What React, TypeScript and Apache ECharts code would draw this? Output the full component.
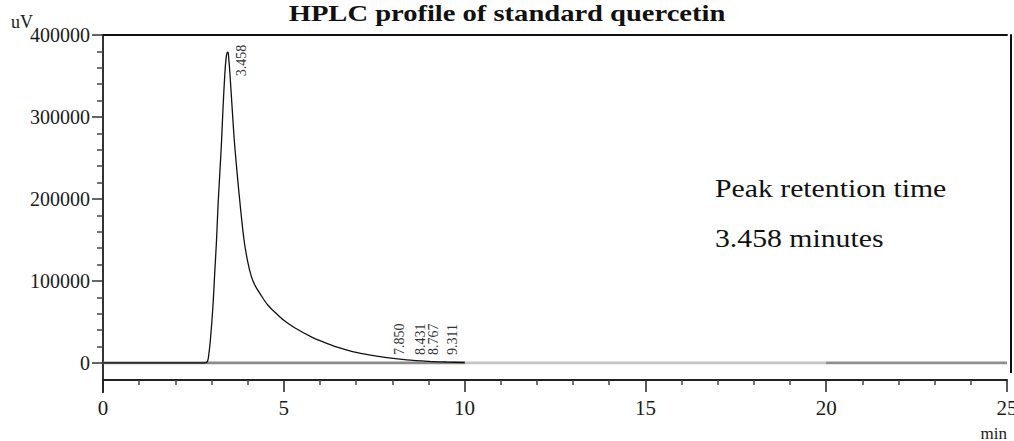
import React, { useEffect, useRef } from "react";
import * as echarts from "echarts";

// ---- data ----
const retentionTimes = [0, 2.8, 2.89, 2.93, 2.97, 3.04, 3.09, 3.14, 3.18, 3.23, 3.28, 3.32, 3.37, 3.4, 3.43, 3.458, 3.48, 3.51, 3.57, 3.63, 3.71, 3.8, 3.9, 4.0, 4.1, 4.2, 4.35, 4.55, 4.8, 5.0, 5.3, 5.8, 6.1, 6.5, 6.9, 7.4, 7.85, 8.4, 9.0, 9.5, 10.0];
const signal = [0, 0, 2000, 12000, 28000, 69000, 110000, 150000, 191000, 231000, 272000, 312000, 353000, 370000, 378000, 379000, 370000, 353000, 312000, 272000, 231000, 190000, 150000, 124000, 106000, 95000, 84000, 71000, 60000, 52000, 43000, 31000, 25500, 19000, 14000, 9500, 6500, 3800, 2100, 1200, 600];
const baselineTimes = [0, 10, 20, 25];
const baselineValues = [0, 0, 0, 0];
const peakTimes = [3.458, 7.85, 8.431, 8.767, 9.311];
const peakLabels = ["3.458", "7.850", "8.431", "8.767", "9.311"];
const yMin = 0;
const yMax = 400000;
const yInterval = 100000;
const xMin = 0;
const xMax = 25;
const xInterval = 5;
const titleText = "HPLC profile of standard quercetin";
const annotationLines = ["Peak retention time", "3.458 minutes"];
const yUnit = "uV";
const xUnit = "min";

const SERIF = "'Liberation Serif', 'Times New Roman', 'DejaVu Serif', serif";

export default function App() {
  const ref = useRef<HTMLDivElement>(null);

  useEffect(() => {
    if (!ref.current) return;
    const chart = echarts.init(ref.current, undefined, { renderer: "svg" });

    const traceData = retentionTimes.map((t, i) => [t, signal[i]]);
    const baseData = baselineTimes.map((t, i) => [t, baselineValues[i]]);

    chart.setOption({
      animation: false,
      backgroundColor: "#ffffff",
      grid: { left: 103, right: 7, top: 35, bottom: 78, containLabel: false, outerBoundsMode: "none" },
      visualMap: {
        show: false,
        type: "piecewise",
        seriesIndex: 0,
        dimension: 0,
        pieces: [
          { lt: 10, color: "#8a8a8a" },
          { gte: 10, lt: 20, color: "#c4c4c4" },
          { gte: 20, color: "#8f8f8f" },
        ],
      },
      xAxis: [
        {
          type: "value",
          min: xMin,
          max: xMax,
          interval: xInterval,
          position: "bottom",
          offset: 17,
          axisLine: { show: true, onZero: false, lineStyle: { color: "#222", width: 2 } },
          axisTick: { show: true, length: 12, lineStyle: { color: "#222", width: 1.5 } },
          minorTick: { show: true, splitNumber: 5, length: 5, lineStyle: { color: "#444", width: 1.5 } },
          axisLabel: { fontFamily: SERIF, fontSize: 21, color: "#1a1a1a", margin: 17 },
          splitLine: { show: false },
        },
        {
          type: "value",
          min: xMin,
          max: xMax,
          position: "top",
          axisLine: { show: true, onZero: false, lineStyle: { color: "#111", width: 2 } },
          axisTick: { show: false },
          axisLabel: { show: false },
          splitLine: { show: false },
        },
      ],
      yAxis: [
        {
          type: "value",
          min: yMin,
          max: yMax,
          interval: yInterval,
          position: "left",
          axisLine: { show: true, onZero: false, lineStyle: { color: "#333", width: 2 } },
          axisTick: { show: true, length: 11, lineStyle: { color: "#333", width: 1.5 } },
          minorTick: { show: true, splitNumber: 5, length: 6, lineStyle: { color: "#444", width: 1.5 } },
          axisLabel: {
            fontFamily: SERIF,
            fontSize: 20,
            color: "#1a1a1a",
            margin: 13,
            formatter: (v: number) => String(v),
          },
          splitLine: { show: false },
        },
        {
          type: "value",
          min: yMin,
          max: yMax,
          position: "right",
          offset: 4,
          axisLine: { show: true, onZero: false, lineStyle: { color: "#111", width: 2 } },
          axisTick: { show: false },
          axisLabel: { show: false },
          splitLine: { show: false },
        },
      ],
      series: [
        {
          name: "baseline",
          type: "line",
          xAxisIndex: 0,
          yAxisIndex: 0,
          data: baseData,
          symbol: "none",
          lineStyle: { width: 3 },
          silent: true,
          z: 1,
        },
        {
          name: "quercetin",
          type: "line",
          xAxisIndex: 0,
          yAxisIndex: 0,
          data: traceData,
          symbol: "none",
          smooth: 0.3,
          lineStyle: { color: "#111", width: 1.3 },
          silent: true,
          z: 3,
        },
      ],
    });

    const toPx = (t: number, v: number) =>
      chart.convertToPixel({ seriesIndex: 1 }, [t, v]) as number[];

    const origin = toPx(xMin, yMin);
    const corner = toPx(xMax, yMin);
    const apexValue = Math.max(...signal);

    const peakTexts = peakTimes.map((t, i) => {
      const isMain = i === 0;
      const p = isMain ? toPx(t, apexValue) : toPx(t, 0);
      return {
        type: "text",
        x: p[0] + 13,
        y: isMain ? p[1] + 24 : p[1] - 8,
        rotation: Math.PI / 2,
        silent: true,
        style: {
          text: peakLabels[i],
          fontFamily: SERIF,
          fontSize: 14,
          fill: "#333",
          align: "left",
          verticalAlign: "middle",
        },
      };
    });

    chart.setOption({
      graphic: [
        {
          type: "line",
          silent: true,
          shape: { x1: origin[0], y1: origin[1], x2: origin[0], y2: origin[1] + 30 },
          style: { stroke: "#333", lineWidth: 2 },
        },
        {
          type: "line",
          silent: true,
          shape: { x1: corner[0] + 4, y1: corner[1], x2: corner[0] + 4, y2: corner[1] + 10 },
          style: { stroke: "#111", lineWidth: 2 },
        },
        {
          type: "text",
          x: 507,
          y: 13,
          scaleX: 1.19,
          silent: true,
          style: {
            text: titleText,
            fontFamily: SERIF,
            fontWeight: "bold",
            fontSize: 24,
            fill: "#111",
            align: "center",
            verticalAlign: "middle",
          },
        },
        {
          type: "text",
          x: 11,
          y: 22,
          silent: true,
          style: {
            text: yUnit,
            fontFamily: SERIF,
            fontSize: 18,
            fill: "#1a1a1a",
            align: "left",
            verticalAlign: "middle",
          },
        },
        {
          type: "text",
          x: 1007,
          y: 433,
          silent: true,
          style: {
            text: xUnit,
            fontFamily: SERIF,
            fontSize: 17,
            fill: "#1a1a1a",
            align: "right",
            verticalAlign: "middle",
          },
        },
        ...annotationLines.map((line, i) => ({
          type: "text",
          x: 715,
          y: 189 + i * 50,
          scaleX: 1.19,
          silent: true,
          style: {
            text: line,
            fontFamily: SERIF,
            fontSize: 25,
            fill: "#111",
            align: "left",
            verticalAlign: "middle",
          },
        })),
        ...peakTexts,
      ],
    });

    return () => chart.dispose();
  }, []);

  return (
    <div
      ref={ref}
      style={{ position: "fixed", left: 0, top: 0, width: 1014, height: 441, background: "#fff" }}
    />
  );
}
